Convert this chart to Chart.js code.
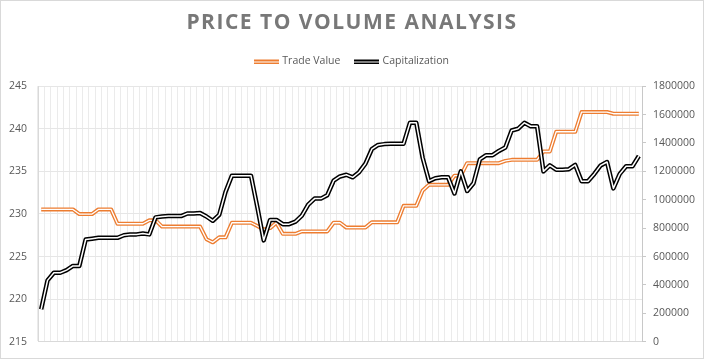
<!DOCTYPE html>
<html>
<head>
<meta charset="utf-8">
<title>Price to Volume Analysis</title>
<script src="https://cdn.jsdelivr.net/npm/chart.js@4.4.0/dist/chart.umd.min.js"></script>
<style>
    html, body { margin: 0; padding: 0; background: #fff; }
    #wrap { width: 704px; height: 359px; }
</style>
</head>
<body>
<div id="wrap"><canvas id="priceChart" width="704" height="359"></canvas></div>
<script>
// 카테고리 (축 라벨은 숨김)
var days = [];
for (var d = 1; d <= 95; d++) {
    days.push('Day ' + d);
}

// Trade Value - 오른쪽 축
var tradeValue = [
    932000, 932000, 932000, 932000, 932000, 932000, 899000, 899000, 899000, 932000,
    932000, 932000, 831000, 831000, 831000, 831000, 831000, 855000, 855000, 811000,
    811000, 811000, 811000, 811000, 811000, 811000, 722000, 700000, 735000, 735000,
    838000, 838000, 838000, 838000, 815000, 790000, 800000, 838000, 760000, 760000,
    760000, 777000, 777000, 777000, 777000, 777000, 838000, 838000, 804000, 804000,
    804000, 804000, 841000, 841000, 841000, 841000, 841000, 957000, 957000, 957000,
    1066000, 1105000, 1105000, 1105000, 1105000, 1170000, 1170000, 1258000, 1258000, 1258000,
    1258000, 1258000, 1258000, 1274000, 1281000, 1281000, 1281000, 1281000, 1281000, 1340000,
    1340000, 1479000, 1479000, 1479000, 1479000, 1618000, 1618000, 1618000, 1618000, 1618000,
    1606000, 1606000, 1606000, 1606000, 1606000
];

// Capitalization - 왼쪽 축
var capitalization = [
    218.8, 222.2, 223.1, 223.1, 223.4, 223.9, 223.9, 227.0, 227.1, 227.2,
    227.2, 227.2, 227.2, 227.5, 227.6, 227.6, 227.7, 227.6, 229.6, 229.7,
    229.75, 229.75, 229.75, 230.05, 230.05, 230.1, 229.7, 229.2, 229.9, 232.6,
    234.5, 234.5, 234.5, 234.5, 230.8, 226.9, 229.3, 229.3, 228.8, 228.8,
    229.1, 229.8, 231.1, 231.8, 231.8, 232.2, 233.9, 234.4, 234.6, 234.3,
    234.9, 235.9, 237.6, 238.1, 238.2, 238.25, 238.25, 238.25, 240.7, 240.7,
    236.6, 233.85, 234.2, 234.3, 234.3, 232.4, 235.0, 232.7, 233.6, 236.4,
    236.9, 236.9, 237.4, 237.8, 239.8, 240.0, 240.7, 240.3, 240.3, 235.0,
    235.7, 235.2, 235.2, 235.25, 235.75, 233.85, 233.85, 234.7, 235.7, 236.1,
    233.0, 234.7, 235.6, 235.6, 236.8
];

// 축 눈금
var leftTicks = [215, 220, 225, 230, 235, 240, 245];
var rightTicks = [0, 200000, 400000, 600000, 800000, 1000000, 1200000, 1400000, 1600000, 1800000];

var ORANGE = '#ED7D31';
var BLACK = '#000000';
var legendGap = 9.5; // 범례 아래 여백

// 범례용 이중선 아이콘
function doubleLineIcon(color) {
    var c = document.createElement('canvas');
    c.width = 25;
    c.height = 6;
    var g = c.getContext('2d');
    g.fillStyle = color;
    g.fillRect(0, 1, 25, 5);
    g.fillStyle = '#ffffff';
    g.fillRect(0, 3, 25, 1);
    return c;
}

var tweaks = {
    id: 'tweaks',
    beforeInit: function(chart) {
        // 범례 높이 늘리기
        var legendFit = chart.legend.fit;
        chart.legend.fit = function() {
            legendFit.call(this);
            this.height += legendGap;
        };
        // 제목 자간
        var titleDraw = chart.titleBlock.draw;
        chart.titleBlock.draw = function() {
            var ctx = this.ctx;
            ctx.save();
            ctx.letterSpacing = '1.5px';
            titleDraw.apply(this, arguments);
            ctx.restore();
        };
    },
    beforeDraw: function(chart) {
        var ctx = chart.ctx;
        ctx.save();
        ctx.fillStyle = '#ffffff';
        ctx.fillRect(0, 0, chart.width, chart.height);
        ctx.strokeStyle = '#d9d9d9';
        ctx.lineWidth = 1;
        ctx.strokeRect(0.5, 0.5, chart.width - 1, chart.height - 1);
        ctx.restore();
    }
};

var lineBase = {
    pointRadius: 0,
    pointHoverRadius: 0,
    borderJoinStyle: 'round',
    tension: 0,
    fill: false
};

var ctx = document.getElementById('priceChart').getContext('2d');
var priceChart = new Chart(ctx, {
    type: 'line',
    data: {
        labels: days,
        datasets: [
            Object.assign({}, lineBase, {
                label: 'Trade Value',
                data: tradeValue,
                yAxisID: 'y1',
                borderColor: ORANGE,
                backgroundColor: ORANGE,
                borderWidth: 4,
                pointStyle: doubleLineIcon(ORANGE),
                order: 4
            }),
            Object.assign({}, lineBase, { // 가운데 흰 선
                label: 'Trade Value inner',
                data: tradeValue,
                yAxisID: 'y1',
                borderColor: '#ffffff',
                borderWidth: 1.3,
                order: 3
            }),
            Object.assign({}, lineBase, {
                label: 'Capitalization',
                data: capitalization,
                yAxisID: 'y',
                borderColor: BLACK,
                backgroundColor: BLACK,
                borderWidth: 4.5,
                pointStyle: doubleLineIcon(BLACK),
                order: 2
            }),
            Object.assign({}, lineBase, {
                label: 'Capitalization inner',
                data: capitalization,
                yAxisID: 'y',
                borderColor: '#ffffff',
                borderWidth: 1.5,
                order: 1
            })
        ]
    },
    options: {
        responsive: false,
        animation: false,
        devicePixelRatio: 1,
        events: [],
        layout: {
            padding: { left: 0, right: 0, top: 0, bottom: 14 }
        },
        plugins: {
            title: {
                display: true,
                text: 'PRICE TO VOLUME ANALYSIS',
                color: '#787878',
                font: { family: 'Open Sans', size: 21, weight: 'bold' },
                padding: { top: 10, bottom: 6 }
            },
            legend: {
                display: true,
                position: 'top',
                align: 'center',
                labels: {
                    usePointStyle: true,
                    pointStyleWidth: 22,
                    padding: 15,
                    color: '#595959',
                    font: { family: 'Open Sans', size: 10.5 },
                    filter: function(item) {
                        return item.datasetIndex % 2 === 0;
                    },
                    sort: function(a, b) {
                        return a.datasetIndex - b.datasetIndex;
                    }
                }
            },
            tooltip: { enabled: false }
        },
        scales: {
            x: {
                type: 'category',
                offset: true,
                grid: { offset: true, color: '#ebebeb', drawTicks: false },
                border: { display: true, color: '#d9d9d9' },
                ticks: { display: false },
                afterFit: function(scale) { scale.height = 0; }
            },
            y: {
                position: 'left',
                min: leftTicks[0],
                max: leftTicks[leftTicks.length - 1],
                afterBuildTicks: function(scale) {
                    scale.ticks = leftTicks.map(function(v) { return { value: v }; });
                },
                grid: { color: '#e6e6e6', drawTicks: false },
                border: { display: true, color: '#d9d9d9' },
                ticks: {
                    color: '#595959',
                    padding: 11,
                    font: { family: 'Open Sans', size: 10.5 }
                },
                afterFit: function(scale) { scale.width = 38; }
            },
            y1: {
                position: 'right',
                min: rightTicks[0],
                max: rightTicks[rightTicks.length - 1],
                afterBuildTicks: function(scale) {
                    scale.ticks = rightTicks.map(function(v) { return { value: v }; });
                },
                grid: { drawOnChartArea: false, drawTicks: true, tickLength: 4, color: '#c8c8c8' },
                border: { display: true, color: '#c8c8c8' },
                ticks: {
                    color: '#595959',
                    padding: 7,
                    font: { family: 'Open Sans', size: 10.5 },
                    callback: function(value) { return String(value); }
                },
                afterFit: function(scale) { scale.width = 62; }
            }
        }
    },
    plugins: [tweaks]
});
</script>
</body>
</html>
